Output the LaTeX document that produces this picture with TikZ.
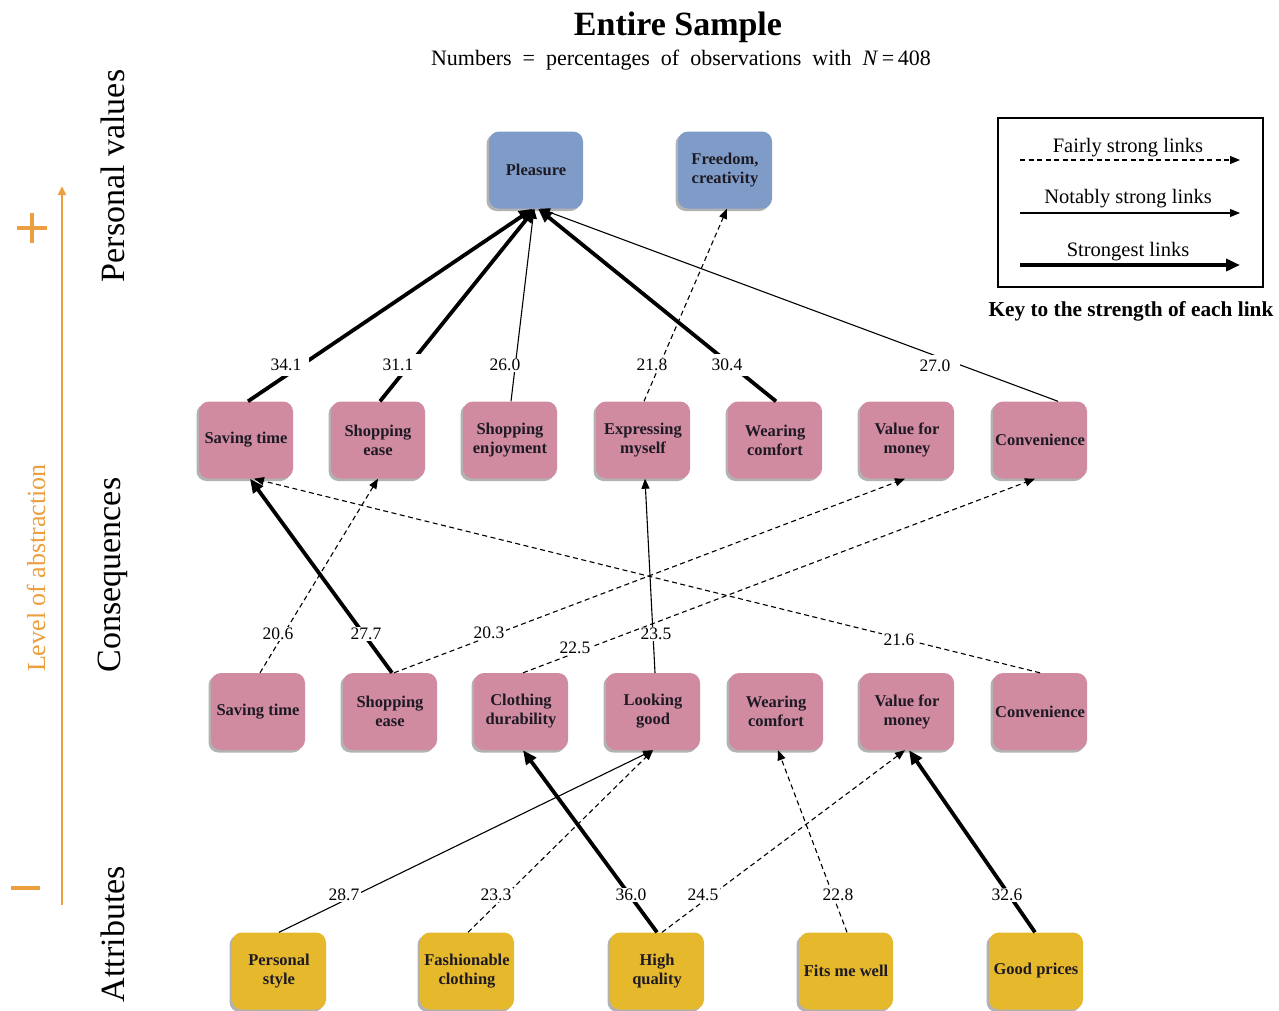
\documentclass[tikz,border=0pt]{standalone}
\usepackage{fontspec}
\setmainfont{Liberation Serif}
\usetikzlibrary{arrows.meta,shadows}
\definecolor{vblue}{HTML}{7F9CC9}
\definecolor{cpink}{HTML}{D08BA1}
\definecolor{ayellow}{HTML}{E6B92C}
\definecolor{lorange}{HTML}{EB9F3E}
\definecolor{ntext}{HTML}{1E1A24}
\begin{document}
\begin{tikzpicture}[x=1pt,y=-1pt,
  box/.style={rectangle, rounded corners=10pt, minimum width=94pt, minimum height=77pt, inner sep=1pt, align=center, text=ntext, font=\fontsize{16.5}{19}\selectfont\bfseries, drop shadow={shadow xshift=-2.5pt, shadow yshift=-2.5pt, fill=black!55, opacity=0.55}},
  val/.style={box, fill=vblue},
  con/.style={box, fill=cpink},
  att/.style={box, fill=ayellow},
  fair/.style={line width=1.1pt, dash pattern=on 5pt off 3.5pt, -{Triangle[length=10pt,width=8pt]}},
  notab/.style={line width=1.1pt, -{Triangle[length=10pt,width=8pt]}},
  strong/.style={line width=3.8pt, -{Triangle[length=14pt,width=12pt]}},
  num/.style={fill=white, inner sep=1.5pt, font=\fontsize{17.5}{20}\selectfont},
  numgap/.style={num, inner xsep=8pt, inner ysep=5pt},
  side/.style={rotate=90, font=\fontsize{34}{40}\selectfont},
]
\useasboundingbox (0,0) rectangle (1279,1010);

% titles
\node[font=\fontsize{34}{40}\selectfont\bfseries] (title) at (678,27) {Entire Sample};
\node[font=\fontsize{22}{26}\selectfont] (sub) at (681,60) {Numbers\ \ =\ \ percentages\ \ of\ \ observations\ \ with\ \ \textit{N}\,=\,408};

% left axis
\coordinate (ab0) at (62,905);
\coordinate (ab1) at (62,186);
\draw[lorange, line width=2.5pt, -{Triangle[length=9pt,width=8pt]}] (ab0) -- (ab1);
\draw[lorange, line width=3.5pt] (17,228) -- (47,228) (32,213) -- (32,243);
\draw[lorange, line width=4pt] (11,888) -- (40,888);
\node[rotate=90, text=lorange, font=\fontsize{26}{30}\selectfont] (loa) at (36,568) {Level of abstraction};
\node[side] (pv) at (113,176) {Personal values};
\node[side] (cq) at (113,575) {Consequences};
\node[side] (at) at (113,934) {Attributes};

% key
\draw[line width=1.1pt] (998,118) rectangle (1263,287);
\node[font=\fontsize{20.5}{24}\selectfont] (k1) at (1128,148) {Fairly strong links};
\node[font=\fontsize{20.5}{24}\selectfont] (k2) at (1128,199) {Notably strong links};
\node[font=\fontsize{20.5}{24}\selectfont] (k3) at (1128,252) {Strongest links};
\coordinate (k1a) at (1020,160); \coordinate (k1b) at (1240,160);
\coordinate (k2a) at (1020,213); \coordinate (k2b) at (1240,213);
\coordinate (k3a) at (1020,265); \coordinate (k3b) at (1240,265);
\draw[fair] (k1a) -- (k1b);
\draw[notab] (k2a) -- (k2b);
\draw[strong] (k3a) -- (k3b);
\node[font=\fontsize{21.3}{25}\selectfont\bfseries] (keyt) at (1131,311) {Key to the strength of each link};

% nodes: personal values
\node[val] (pl) at (536,170) {Pleasure};
\node[val] (fr) at (725,170) {Freedom,\\creativity};

% consequences (upper row)
\node[con] (st2) at (246,440) {Saving time};
\node[con] (se2) at (378,440) {Shopping\\ease};
\node[con] (sj2) at (510,440) {Shopping\\enjoyment};
\node[con] (em2) at (643,440) {Expressing\\myself};
\node[con] (wc2) at (775,440) {Wearing\\comfort};
\node[con] (vm2) at (907,440) {Value for\\money};
\node[con] (cv2) at (1040,440) {Convenience};

% consequences (lower row)
\node[con] (st3) at (258,711.5) {Saving time};
\node[con] (se3) at (390,711.5) {Shopping\\ease};
\node[con] (cd3) at (521,711.5) {Clothing\\durability};
\node[con] (lg3) at (653,711.5) {Looking\\good};
\node[con] (wc3) at (776,711.5) {Wearing\\comfort};
\node[con] (vm3) at (907,711.5) {Value for\\money};
\node[con] (cv3) at (1040,711.5) {Convenience};

% attributes
\node[att] (ps) at (279,971) {Personal\\style};
\node[att] (fc) at (467,971) {Fashionable\\clothing};
\node[att] (hq) at (657,971) {High\\quality};
\node[att] (fw) at (846,971) {Fits me well};
\node[att] (gp) at (1036,971) {Good prices};

% links to personal values
\draw[strong] ([xshift=2pt]st2.north) -- ([xshift=-3pt]pl.south);
\draw[strong] ([xshift=2pt]se2.north) -- ([xshift=-1pt]pl.south);
\draw[notab] ([xshift=1pt]sj2.north) -- ([xshift=-2pt]pl.south);
\draw[fair] ([xshift=1pt]em2.north) -- ([xshift=2pt]fr.south);
\draw[strong] ([xshift=1pt]wc2.north) -- ([xshift=2pt]pl.south);
\draw[notab] ([xshift=18pt]cv2.north) -- ([xshift=4pt]pl.south);

% links between consequences
\draw[fair] ([xshift=2pt]st3.north) -- (se2.south);
\draw[strong] ([xshift=2pt]se3.north) -- ([xshift=4pt]st2.south);
\draw[fair] ([xshift=4pt]se3.north) -- ([xshift=-2pt]vm2.south);
\draw[fair] ([xshift=2pt]cd3.north) -- ([xshift=-5pt]cv2.south);
\draw[notab] ([xshift=2pt]lg3.north) -- ([xshift=2pt]em2.south);
\draw[fair] (cv3.north) -- ([xshift=8pt]st2.south);

% links from attributes
\draw[notab] (ps.north) -- (lg3.south);
\draw[fair] ([xshift=1pt]fc.north) -- (lg3.south);
\draw[strong] (hq.north) -- ([xshift=2pt]cd3.south);
\draw[fair] ([xshift=5pt]hq.north) -- ([xshift=-2pt]vm3.south);
\draw[fair] ([xshift=1pt]fw.north) -- ([xshift=2pt]wc3.south);
\draw[strong] ([xshift=-1pt]gp.north) -- ([xshift=2pt]vm3.south);

% numbers
\node[numgap] (n341) at (286,365) {34.1};
\node[numgap] (n311) at (398,365) {31.1};
\node[num] (n260) at (505,365) {26.0};
\node[num] (n218) at (652,365) {21.8};
\node[numgap] (n304) at (727,365) {30.4};
\node[numgap, inner xsep=10pt] (n270) at (935,366) {27.0};

\node[num] (n206) at (278,634) {20.6};
\node[num] (n277) at (366,634) {27.7};
\node[num] (n203) at (489,633) {20.3};
\node[num] (n225) at (575,648) {22.5};
\node[num] (n235) at (656,634) {23.5};
\node[num] (n216) at (899,640) {21.6};

\node[num] (n287) at (344,895) {28.7};
\node[num] (n233) at (496,895) {23.3};
\node[num] (n360) at (631,895) {36.0};
\node[num] (n245) at (703,895) {24.5};
\node[num] (n228) at (838,895) {22.8};
\node[num] (n326) at (1007,895) {32.6};
\end{tikzpicture}
\end{document}
